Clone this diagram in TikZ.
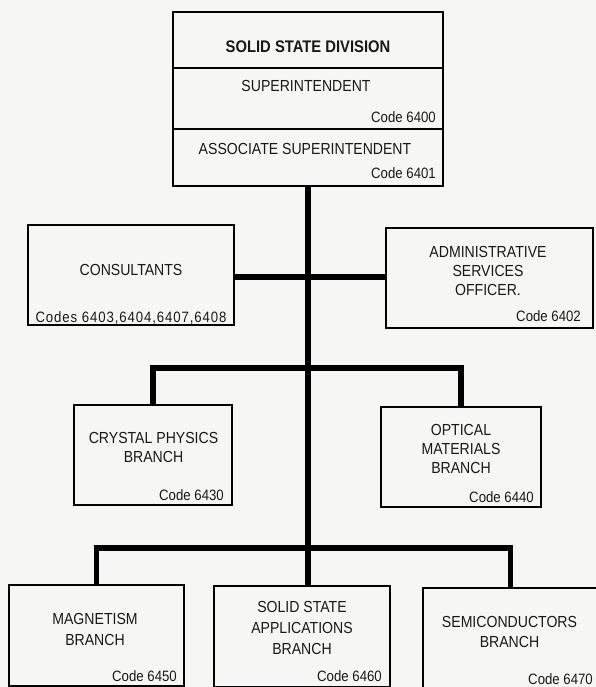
\documentclass[tikz,border=0pt]{standalone}
\usepackage{fontspec}
\setmainfont{Liberation Sans}[FakeStretch=0.88]
\begin{document}
\begin{tikzpicture}[x=1pt,y=-1pt,
  box/.style={draw, line width=1.3pt, rectangle, inner sep=0pt, outer sep=0pt},
  lbl/.style={font=\fontsize{16}{19}\selectfont, align=center, inner sep=0pt, text=ink},
  lblb/.style={lbl, font=\fontsize{16}{21}\selectfont},
  code/.style={font=\fontsize{15}{18}\selectfont, anchor=base east, inner sep=0pt, text=ink},
  bar/.style={line width=5.5pt, line join=miter, line cap=butt}]
\definecolor{paper}{RGB}{246,246,245}
\definecolor{ink}{RGB}{25,25,25}
\useasboundingbox (0,0) rectangle (596,687);
\clip (0,0) rectangle (596,687);
\fill[paper] (0,0) rectangle (596,687);

% division heading: three stacked panels
\node[box, minimum width=270pt, minimum height=56pt] (div) at (308,40) {};
\node[box, minimum width=270pt, minimum height=61pt] (sup) at (308,98.5) {};
\node[box, minimum width=270pt, minimum height=57pt] (assoc) at (308,157.5) {};
\node[lbl, font=\fontsize{16.8}{20}\selectfont\bfseries] (div-t) at (308,46.5) {SOLID STATE DIVISION};
\node[lbl] (sup-t) at (306,86) {SUPERINTENDENT};
\node[code] (sup-c) at (436,122.5) {Code 6400};
\node[lbl] (assoc-t) at (305,149) {ASSOCIATE SUPERINTENDENT};
\node[code] (assoc-c) at (436,178.5) {Code 6401};

% staff offices
\node[box, minimum width=206pt, minimum height=100pt] (cons) at (131,275) {};
\node[lbl] (cons-t) at (131,270) {CONSULTANTS};
\node[code, anchor=base] (cons-c) at (131,322) {\addfontfeature{LetterSpace=6}Codes 6403,6404,6407,6408};

\node[box, minimum width=207pt, minimum height=100pt] (adm) at (489.5,278) {};
\node[lbl] (adm-t) at (488,271) {ADMINISTRATIVE\\SERVICES\\OFFICER.};
\node[code] (adm-c) at (581,321) {Code 6402};

% first row of branches
\node[box, minimum width=158pt, minimum height=100pt] (cry) at (153,455) {};
\node[lbl] (cry-t) at (153.5,447.5) {CRYSTAL PHYSICS\\BRANCH};
\node[code] (cry-c) at (224,500) {Code 6430};

\node[box, minimum width=160pt, minimum height=100pt] (opt) at (461,457) {};
\node[lbl] (opt-t) at (461,449) {OPTICAL\\MATERIALS\\BRANCH};
\node[code] (opt-c) at (534,502) {Code 6440};

% second row of branches
\node[box, minimum width=175pt, minimum height=101pt] (mag) at (96.5,635.5) {};
\node[lblb] (mag-t) at (95,629.5) {MAGNETISM\\BRANCH};
\node[code] (mag-c) at (177,681) {Code 6450};

\node[box, minimum width=176pt, minimum height=101pt] (ssa) at (302,636.5) {};
\node[lblb] (ssa-t) at (302,627.5) {SOLID STATE\\APPLICATIONS\\BRANCH};
\node[code] (ssa-c) at (382,681) {Code 6460};

\node[box, minimum width=175pt, minimum height=104pt] (semi) at (510.5,640) {};
\node[lblb, font=\fontsize{16}{20}\selectfont] (semi-t) at (509.5,632) {SEMICONDUCTORS\\BRANCH};
\node[code] (semi-c) at (593,684) {Code 6470};

% junctions on the main line
\coordinate (j1) at (308,277);
\coordinate (j2) at (308,368);
\coordinate (j3) at (308,548);

% connectors
\draw[bar] (assoc.south) -- (assoc.south |- ssa.north);
\draw[bar] (cons.east |- j1) -- (adm.west |- j1);
\draw[bar] (cry.north) |- (opt.north |- j2) -- (opt.north);
\draw[bar] (mag.north) |- (semi.north |- j3) -- (semi.north);
\end{tikzpicture}
\end{document}
